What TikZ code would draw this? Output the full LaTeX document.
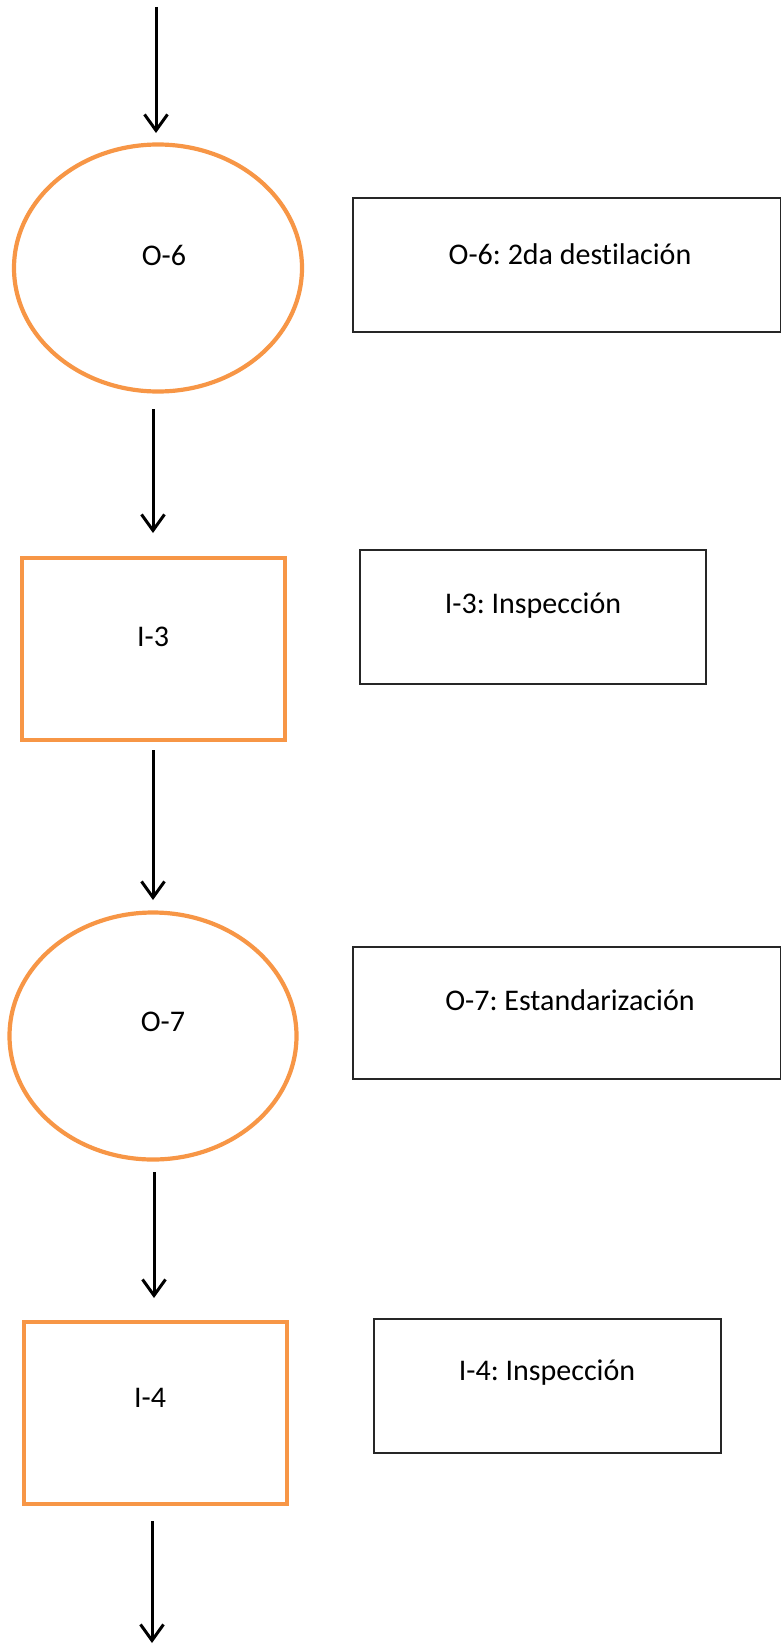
\documentclass[tikz,border=0pt]{standalone}
\usepackage{fontspec}
\setmainfont{Carlito}[Ligatures=NoCommon]
\frenchspacing
\usetikzlibrary{arrows.meta,shapes.geometric}
\definecolor{accent}{HTML}{F79646}
\begin{document}
\begin{tikzpicture}[x=1pt,y=-1pt,
  flow/.style={draw=black,line width=3pt,-{Straight Barb[length=16pt,width=23pt,line width=3pt]}},
  opshape/.style={draw=accent,line width=4.2pt,ellipse,inner sep=0pt},
  inspshape/.style={draw=accent,line width=3.2pt,rectangle,inner sep=0pt},
  descbox/.style={draw=black!85,line width=1.5pt,rectangle,inner sep=0pt},
  lbl/.style={font=\fontsize{30}{35}\selectfont,inner sep=0pt,anchor=center}]
\useasboundingbox (0,0) rectangle (781,1646);

% operation and inspection symbols
\node[opshape,minimum width=288pt,minimum height=247pt] (o6) at (158,268) {};
\node[inspshape,minimum width=263pt,minimum height=182pt] (i3) at (153.5,649) {};
\node[opshape,minimum width=287pt,minimum height=247pt] (o7) at (153,1036) {};
\node[inspshape,minimum width=263pt,minimum height=182pt] (i4) at (155.5,1413) {};

\node[lbl] at (164,255) {O-6};
\node[lbl] at (153,637) {I-3};
\node[lbl] at (163,1022) {O-7};
\node[lbl] at (150,1398) {I-4};

% description boxes
\node[descbox,minimum width=428pt,minimum height=134pt] (d6) at (567,265) {};
\node[descbox,minimum width=346pt,minimum height=134pt] (d3) at (533,617) {};
\node[descbox,minimum width=428pt,minimum height=132pt] (d7) at (567,1013) {};
\node[descbox,minimum width=347pt,minimum height=134pt] (d4) at (547.5,1386) {};

\node[lbl] at (570,254) {O-6: 2da destilación};
\node[lbl] at (533,606) {I-3: Inspección};
\node[lbl] at (570,1000) {O-7: Estandarización};
\node[lbl] at (547,1373) {I-4: Inspección};

% connectors
\coordinate (start) at (156,7);
\coordinate (finish) at (152,1643);
\coordinate (a2s) at (153,409);
\coordinate (a2e) at (153,533);
\coordinate (a3s) at (153,750);
\coordinate (a3e) at (153,900);
\coordinate (a4s) at (154,1172);
\coordinate (a4e) at (154,1298);
\coordinate (a5s) at (152,1521);
\draw[flow] (start) -- (156,133);
\draw[flow] (a2s) -- (a2e);
\draw[flow] (a3s) -- (a3e);
\draw[flow] (a4s) -- (a4e);
\draw[flow] (a5s) -- (finish);
\end{tikzpicture}
\end{document}
